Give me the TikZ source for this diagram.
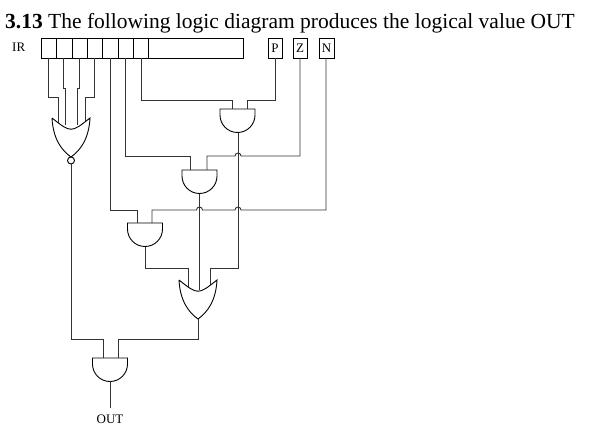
\documentclass[tikz,border=0pt]{standalone}
\usepackage{fontspec}
\setmainfont{Liberation Serif}
\begin{document}
\begin{tikzpicture}[x=1pt,y=-1pt,wire/.style={line width=0.9pt,draw=black!80},gate/.style={line width=0.9pt,draw=black},
 lbl/.style={inner sep=0pt,font=\fontsize{13}{13}\selectfont}]
\useasboundingbox (0,0) rectangle (605,435);
\node[anchor=base west,inner sep=0pt,font=\fontsize{21.5}{21.5}\selectfont] (title) at (5,29) {\textbf{3.13} The following logic diagram produces the logical value OUT};
\node[lbl,anchor=base west] (ir) at (12,52) {IR};
% register
\draw[gate] (41,38) rectangle (243,58);
\foreach \x in {56,72,87,102,118,133,148} \draw[gate] (\x,38) -- (\x,58);
\draw[gate] (268,38) rectangle (282,58); \node[lbl] (p) at (275,48) {P};
\draw[gate] (293,38) rectangle (307,58); \node[lbl] (z) at (300,48) {Z};
\draw[gate] (319,38) rectangle (334,58); \node[lbl] (n) at (326.5,48) {N};
% AND gate macro
\newcommand\andgate[2]{%
 \draw[gate,fill=white] (#1-17.5,#2+6) -- (#1-17.5,#2) -- (#1+17.5,#2) -- (#1+17.5,#2+6)
 .. controls (#1+17.5,#2+15.7) and (#1+9.7,#2+23.5) .. (#1,#2+23.5)
 .. controls (#1-9.7,#2+23.5) and (#1-17.5,#2+15.7) .. (#1-17.5,#2+6);}
\newcommand\orgate[2]{%
 \draw[gate,fill=white] (#1-19,#2) .. controls (#1,#2+15) .. (#1+19,#2)
 .. controls (#1+18,#2+20) and (#1+10,#2+32) .. (#1,#2+39)
 .. controls (#1-10,#2+32) and (#1-18,#2+20) .. (#1-19,#2);}
% NOR wires
\draw[wire] (48,58) |- (58,97) -- (58,125);
\draw[wire] (63,58) |- (65,88) -- (65,125);
\draw[wire] (79,58) |- (77,88) -- (77,125);
\draw[wire] (94,58) |- (85,97) -- (85,125);
\orgate{71}{118}
\draw[gate,fill=white] (71,160.5) circle (3.5);
\coordinate (norout) at (71,164);
% gate1 wires
\draw[wire] (141,58) |- (232,100) -- (232,109);
\draw[wire] (275,58) |- (247,100) -- (247,109);
% gate1 output
\draw[wire] (238,133) -- (238,268) -| (210,290);
% cell6 and Z
\draw[wire] (125,58) |- (190,156) -- (190,170);
\draw[wire] (300,58) |- (241,156) arc (0:-180:3) -- (207,156) -- (207,170);
% gate2 output
\draw[wire] (199.5,194) -- (199.5,290);
% cell5 and N
\draw[wire] (110,58) |- (137,210) -- (137,223);
\draw[wire] (326,58) |- (241,210) arc (0:-180:3) -- (202.5,210) arc (0:-180:3) -- (152,210) -- (152,223);
% gate3 output
\draw[wire] (145,247) |- (188,268) -- (188,290);
\andgate{237.5}{109}
\andgate{199.5}{170}
\andgate{145}{223}
\orgate{198}{280}
% final
\draw[wire] (198,319) |- (118,339) -- (118,358);
\draw[wire] (norout) |- (103,339) -- (103,358);
\andgate{110}{358}
\draw[wire] (110,381.5) -- (110,408);
\node[lbl,anchor=base] (out) at (110,423) {OUT};
\end{tikzpicture}
\end{document}
